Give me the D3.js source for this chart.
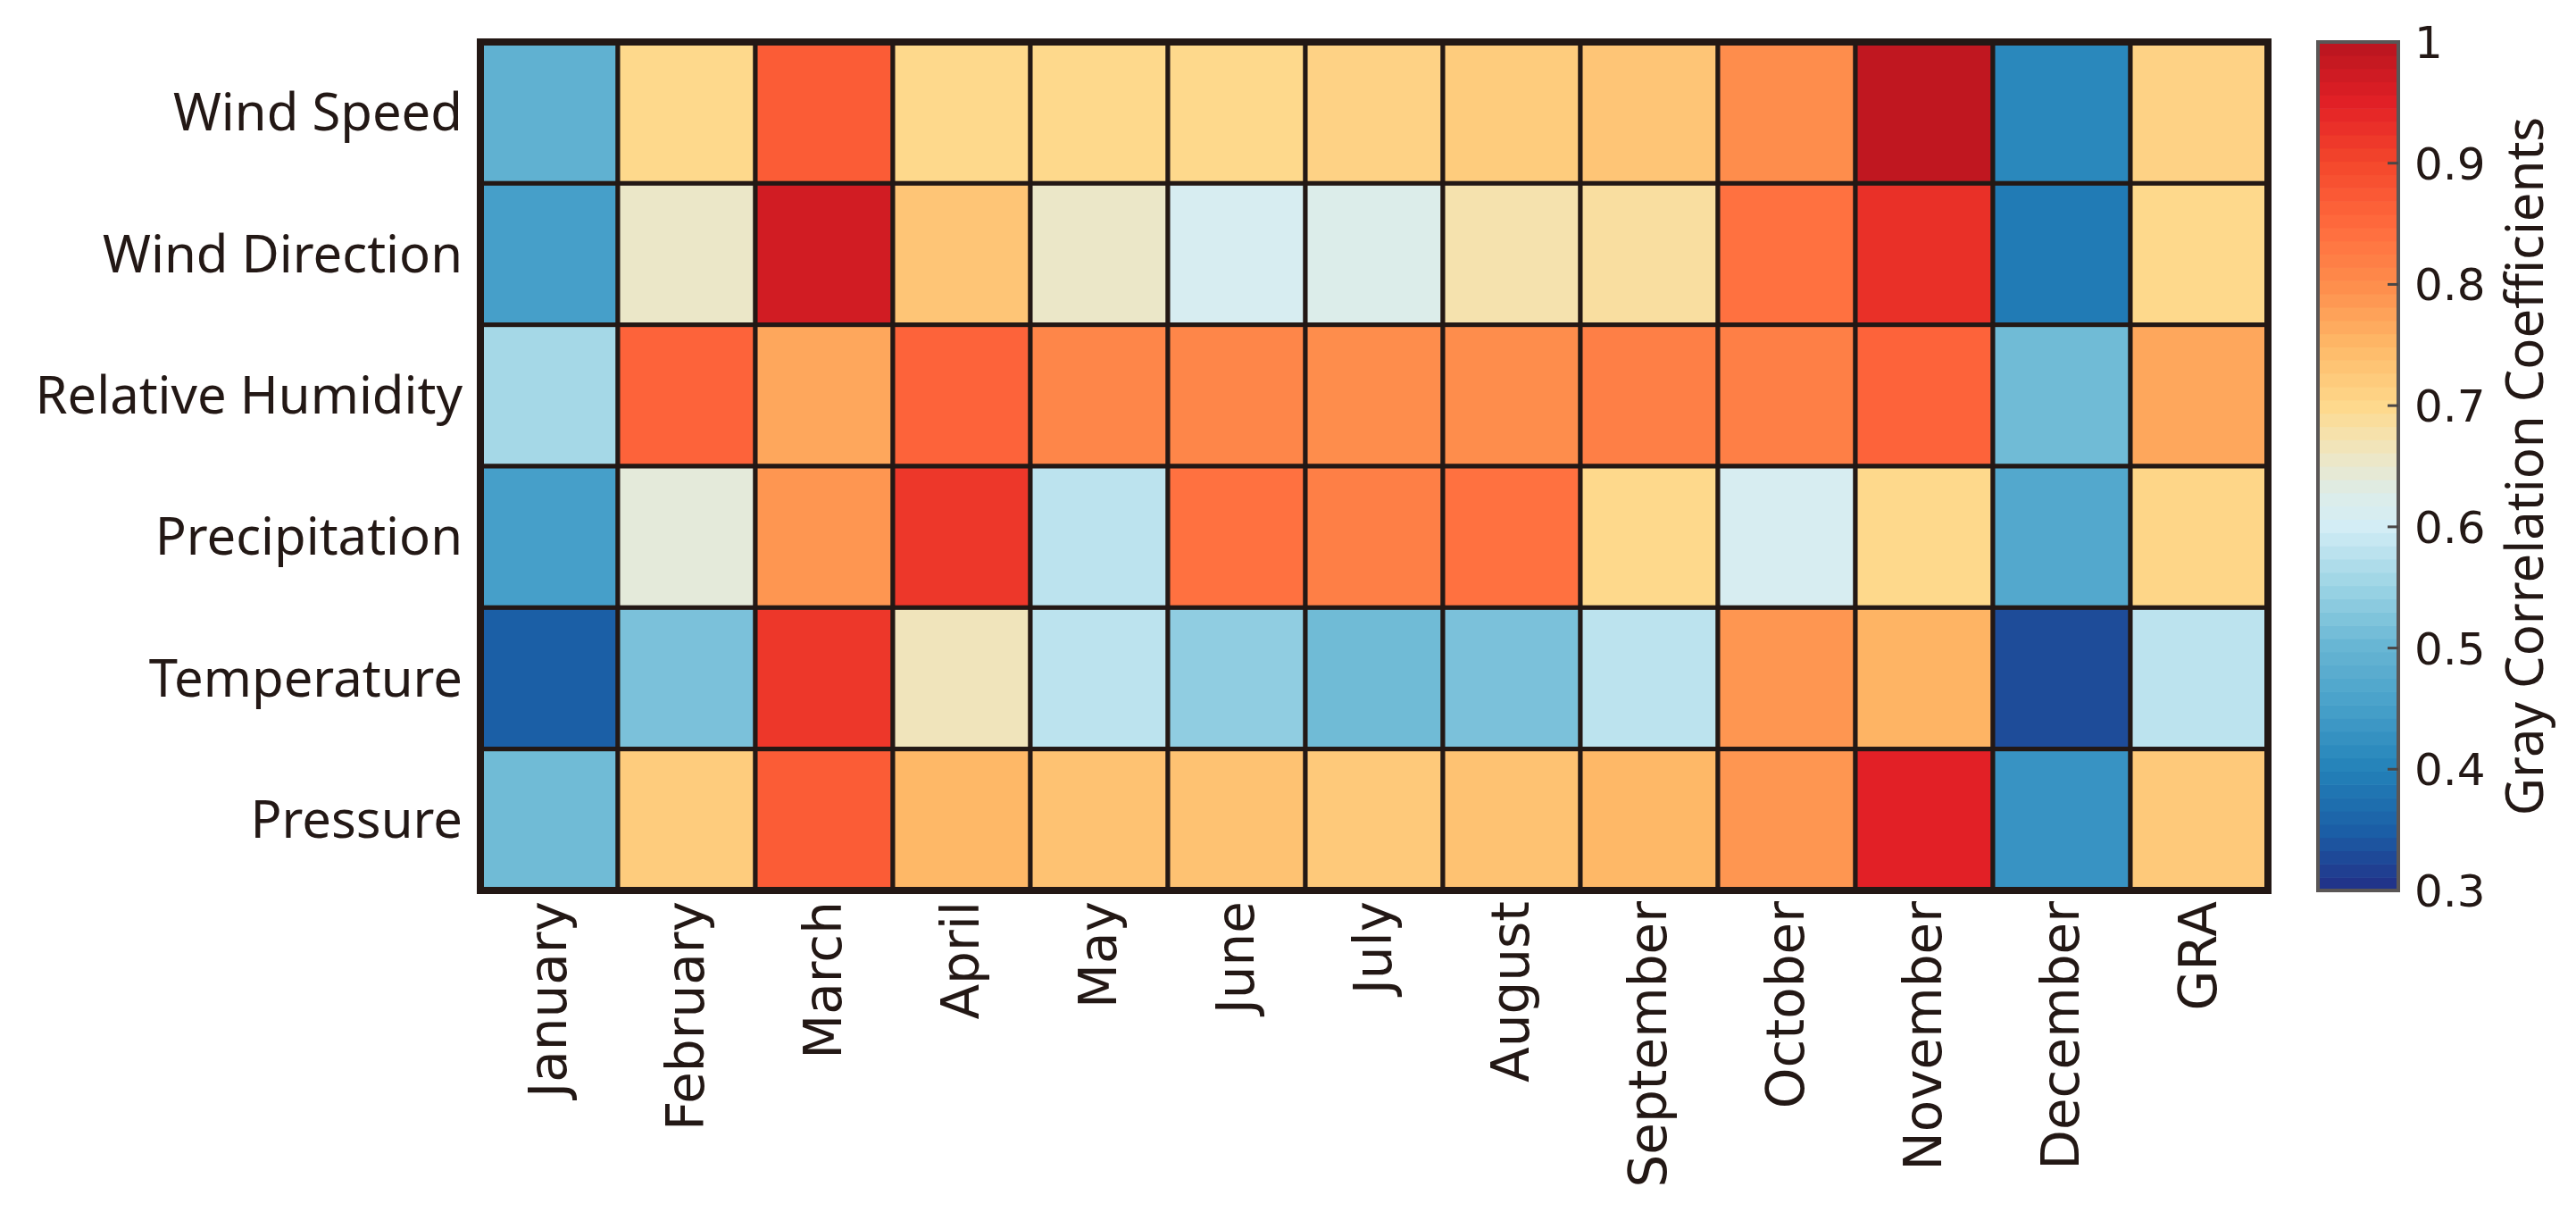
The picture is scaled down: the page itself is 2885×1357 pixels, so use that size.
<!DOCTYPE html>
<html>
  <head>
    <meta charset="utf-8">
    <script src="https://d3js.org/d3.v7.min.js"></script>
    <style>
      body { margin: 0; background: #fff; }
      .rowlab, .title { font-family: "Noto Sans", sans-serif; fill: #231815; }
      .collab, .ticklab { font-family: "DejaVu Sans", sans-serif; fill: #231815; }
    </style>
  </head>
<body>
  <script type="text/javascript">

  // categories
  var months = ["January", "February", "March", "April", "May", "June", "July",
                "August", "September", "October", "November", "December", "GRA"];
  var factors = ["Wind Speed", "Wind Direction", "Relative Humidity",
                 "Precipitation", "Temperature", "Pressure"];

  // gray correlation coefficients, one array per factor (Jan..Dec, GRA)
  var windSpeed     = [0.49, 0.70, 0.87, 0.70, 0.70, 0.70, 0.71, 0.72, 0.73, 0.80, 0.99, 0.41, 0.71];
  var windDirection = [0.45, 0.655, 0.97, 0.73, 0.655, 0.61, 0.625, 0.675, 0.685, 0.84, 0.93, 0.39, 0.70];
  var humidity      = [0.56, 0.86, 0.77, 0.86, 0.81, 0.81, 0.80, 0.80, 0.82, 0.82, 0.86, 0.51, 0.77];
  var precipitation = [0.45, 0.64, 0.79, 0.92, 0.58, 0.84, 0.82, 0.84, 0.70, 0.61, 0.70, 0.47, 0.705];
  var temperature   = [0.35, 0.52, 0.92, 0.665, 0.58, 0.54, 0.51, 0.52, 0.58, 0.79, 0.755, 0.33, 0.58];
  var pressure      = [0.51, 0.72, 0.87, 0.75, 0.735, 0.735, 0.725, 0.735, 0.75, 0.79, 0.95, 0.43, 0.725];

  var colorbarTicks = [0.3, 0.4, 0.5, 0.6, 0.7, 0.8, 0.9, 1];

  var rows = [windSpeed, windDirection, humidity, precipitation, temperature, pressure];

  // flatten into cells
  var cells = [];
  rows.forEach(function(vals, i) {
    vals.forEach(function(v, j) {
      cells.push({factor: factors[i], month: months[j], value: v});
    });
  });

  // colormap (blue -> cream -> yellow -> red)
  var stops = [0.30, 0.35, 0.40, 0.45, 0.50, 0.55, 0.60, 0.625, 0.65, 0.675, 0.70,
               0.75, 0.80, 0.85, 0.90, 0.95, 1.00];
  var stopColors = ["#222f86", "#1b5fa6", "#2382b9", "#469fc9", "#66b5d3", "#9ad3e4",
                    "#d3edf5", "#dcedea", "#e9e8cf", "#f5e2ae", "#fed98c",
                    "#feb867", "#fe8d4c", "#ff6a3d", "#f4472c", "#e22026", "#b8151f"];
  var color = d3.scaleLinear().domain(stops).range(stopColors)
    .interpolate(d3.interpolateRgb).clamp(true);

  var W = 2885, H = 1357;
  var gx0 = 538, gx1 = 2540, gy0 = 47, gy1 = 997;

  var svg = d3.select("body").append("svg")
    .attr("width", W).attr("height", H);

  var x = d3.scaleBand().domain(months).range([gx0, gx1]);
  var y = d3.scaleBand().domain(factors).range([gy0, gy1]);

  // heatmap cells
  svg.append("g").selectAll("rect")
    .data(cells).enter().append("rect")
      .attr("x", function(d) { return x(d.month); })
      .attr("y", function(d) { return y(d.factor); })
      .attr("width", x.bandwidth())
      .attr("height", y.bandwidth())
      .attr("fill", function(d) { return color(d.value); })
      .attr("stroke", "#231815")
      .attr("stroke-width", 5);

  // outer frame
  svg.append("rect")
    .attr("x", gx0).attr("y", gy0)
    .attr("width", gx1 - gx0).attr("height", gy1 - gy0)
    .attr("fill", "none")
    .attr("stroke", "#231815")
    .attr("stroke-width", 8);

  // row labels
  svg.append("g").selectAll("text")
    .data(factors).enter().append("text")
      .attr("class", "rowlab")
      .attr("x", gx0 - 20)
      .attr("y", function(d) { return y(d) + y.bandwidth() / 2; })
      .attr("dy", "0.35em")
      .attr("text-anchor", "end")
      .attr("font-size", 58)
      .text(function(d) { return d; });

  // month labels, rotated
  svg.append("g").selectAll("text")
    .data(months).enter().append("text")
      .attr("class", "collab")
      .attr("transform", function(d) {
        return "translate(" + (x(d) + x.bandwidth() / 2) + "," + (gy1 + 12) + ") rotate(-90)";
      })
      .attr("dy", "0.32em")
      .attr("text-anchor", "end")
      .attr("font-size", 58)
      .text(function(d) { return d; });

  // colorbar
  var cbx = 2596, cbw = 90;
  var cy = d3.scaleLinear().domain([0.3, 1]).range([gy1, gy0]);
  var nLevels = 64;
  var levels = d3.range(nLevels);
  var step = (1 - 0.3) / nLevels;

  svg.append("g").selectAll("rect")
    .data(levels).enter().append("rect")
      .attr("x", cbx)
      .attr("y", function(i) { return cy(0.3 + (i + 1) * step); })
      .attr("width", cbw)
      .attr("height", function(i) { return cy(0.3) - cy(0.3 + step) + 0.6; })
      .attr("fill", function(i) { return color(0.3 + (i + 0.5) * step); });

  svg.append("rect")
    .attr("x", cbx).attr("y", gy0)
    .attr("width", cbw).attr("height", gy1 - gy0)
    .attr("fill", "none")
    .attr("stroke", "#5a5656")
    .attr("stroke-width", 4);

  var inner = colorbarTicks.filter(function(t) { return t > 0.3 && t < 1; });
  svg.append("g").selectAll("line")
    .data(inner).enter().append("line")
      .attr("x1", cbx + cbw - 12).attr("x2", cbx + cbw)
      .attr("y1", function(d) { return cy(d); })
      .attr("y2", function(d) { return cy(d); })
      .attr("stroke", "#4a4646")
      .attr("stroke-width", 3);

  svg.append("g").selectAll("text")
    .data(colorbarTicks).enter().append("text")
      .attr("class", "ticklab")
      .attr("x", cbx + cbw + 18)
      .attr("y", function(d) { return cy(d); })
      .attr("dy", "0.36em")
      .attr("font-size", 50)
      .text(function(d) { return d === 1 ? "1" : d3.format(".1f")(d); });

  svg.append("text")
    .attr("class", "title")
    .attr("transform", "translate(2828," + ((gy0 + gy1) / 2) + ") rotate(-90)")
    .attr("text-anchor", "middle")
    .attr("dy", "0.35em")
    .attr("font-size", 58)
    .text("Gray Correlation Coefficients");

  </script>
</body>
</html>
